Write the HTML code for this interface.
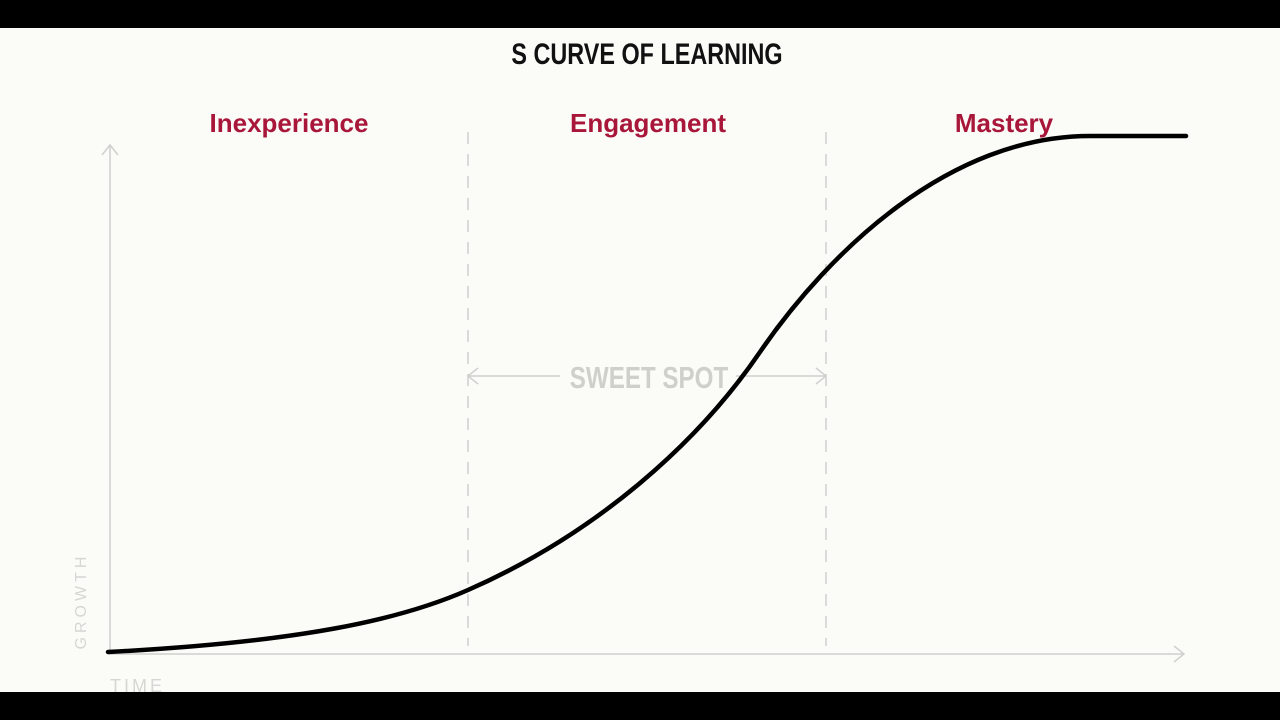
<!DOCTYPE html>
<html><head><meta charset="utf-8"><style>
html,body{margin:0;padding:0;background:#000;}
svg{display:block}
</style></head><body>
<svg width="1280" height="720" viewBox="0 0 1280 720" xmlns="http://www.w3.org/2000/svg">
<rect x="0" y="0" width="1280" height="720" fill="#000"/>
<rect x="0" y="28" width="1280" height="664" fill="#fbfbf8"/>
<g font-family="Liberation Sans, sans-serif">
<text x="0" y="0" transform="translate(647,64) scale(0.78,1)" text-anchor="middle" font-size="30" font-weight="bold" fill="#111">S CURVE OF LEARNING</text>
<text x="289" y="132" text-anchor="middle" font-size="26" font-weight="bold" fill="#a8173a">Inexperience</text>
<text x="648" y="132" text-anchor="middle" font-size="26" font-weight="bold" fill="#a8173a">Engagement</text>
<text x="1004" y="132" text-anchor="middle" font-size="26" font-weight="bold" fill="#a8173a">Mastery</text>
<text x="0" y="0" transform="translate(649,388) scale(0.78,1)" text-anchor="middle" font-size="31" font-weight="bold" fill="#cfcfcc">SWEET SPOT</text>
<text x="0" y="0" transform="translate(86,601) rotate(-90)" text-anchor="middle" font-size="16" letter-spacing="4" fill="#d6d6d3">GROWTH</text>
<text x="110" y="692" font-size="18" letter-spacing="3" fill="#d6d6d3">TIME</text>
</g>
<g stroke="#d0d0cd" stroke-width="1.5" fill="none">
<line x1="110" y1="145" x2="110" y2="654"/>
<polyline points="102,155 110,145 118,155"/>
<line x1="108" y1="654" x2="1184" y2="654"/>
<polyline points="1174,646 1184,654 1174,662"/>
<line x1="468" y1="132" x2="468" y2="646" stroke-dasharray="12,10"/>
<line x1="826" y1="132" x2="826" y2="646" stroke-dasharray="12,10"/>
<line x1="468" y1="376" x2="560" y2="376"/>
<line x1="736" y1="376" x2="826" y2="376"/>
<polyline points="478,368 468,376 478,384"/>
<polyline points="816,368 826,376 816,384"/>
</g>
<path d="M108,652 C300,642 400,620 468,590 C600,532 700,440 760,352 C830,250 950,136 1090,136 L1186,136" stroke="#000" stroke-width="4.5" fill="none" stroke-linecap="round"/>
</svg>
</body></html>
